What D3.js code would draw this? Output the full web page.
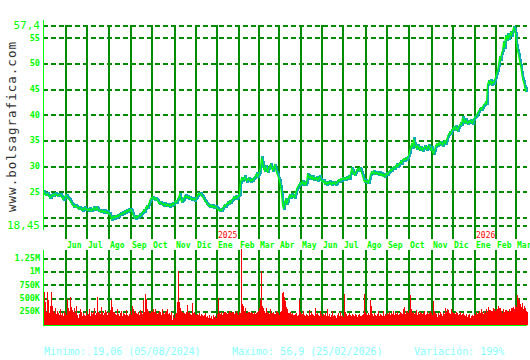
<!DOCTYPE html>
<html>
<head>
<meta charset="utf-8">
<script src="https://cdn.jsdelivr.net/npm/d3@7"></script>
<style>
  body { margin: 0; background: #fff; }
  svg { display: block; }
  text { font-family: "DejaVu Sans Mono", monospace; }
</style>
</head>
<body>
<svg id="chart" width="530" height="360"></svg>
<script>
// trading days per month, May 2024 .. Mar 2026
const monthLabels = ['May','Jun','Jul','Ago','Sep','Oct','Nov','Dic','Ene','Feb','Mar','Abr',
                     'May','Jun','Jul','Ago','Sep','Oct','Nov','Dic','Ene','Feb','Mar'];
const monthDays = [23,21,22,22,21,23,21,21,22,20,20,22,21,21,23,21,22,23,21,22,21,20,11];
const yearMarks = [{ month: 8, label: '2025' }, { month: 20, label: '2026' }];

const priceTicks = [18.45, 20, 25, 30, 35, 40, 45, 50, 55, 57.4];
const priceLabelled = [18.45, 25, 30, 35, 40, 45, 50, 55, 57.4];
const volTicks = [250, 500, 750, 1000, 1250];
const volTickLabels = ['250K', '500K', '750K', '1M', '1.25M'];

// daily closes
const closes = [
  24.9,24.6,24.4,24.3,24.5,24.2,23.9,23.8,24.1,24.3,24.2,24.4,24.5,24.3,24.1,24.2,24.4,24.3,24.0,23.6,23.5,23.9,24.2,
  24.1,23.9,23.6,23.4,23.0,22.7,22.4,22.1,22.0,22.3,22.0,21.8,21.6,21.9,21.7,21.5,21.3,21.6,21.8,21.5,21.4,
  21.5,21.3,21.6,21.4,21.2,21.5,21.8,21.6,21.4,21.9,21.7,21.3,21.2,21.0,21.3,21.1,20.9,21.2,21.0,20.8,21.0,20.7,
  20.6,20.2,19.6,19.9,20.1,19.8,20.2,20.0,20.3,20.1,20.4,20.6,20.5,20.8,20.7,21.0,20.9,21.2,21.1,21.4,21.3,21.5,
  21.2,20.6,20.2,20.0,19.8,20.1,19.9,20.2,20.4,20.3,20.6,20.9,21.3,21.1,21.6,22.0,21.8,22.4,23.0,23.5,23.7,
  23.9,23.6,23.4,23.7,23.5,23.2,22.8,22.6,22.9,22.7,22.5,22.3,22.6,22.4,22.2,22.5,22.3,22.1,22.4,22.2,22.6,22.4,22.8,
  23.1,22.9,23.4,23.8,24.4,23.6,23.0,23.2,23.5,24.0,24.1,23.8,24.0,23.7,23.9,23.6,23.4,23.6,23.5,23.3,23.6,
  23.8,24.2,24.6,24.4,24.5,24.2,24.0,23.6,23.3,23.0,22.7,22.5,22.3,22.1,22.3,22.0,22.2,21.9,22.1,22.0,21.8,
  21.6,21.4,21.2,21.5,21.3,21.6,22.0,22.3,22.1,22.5,22.8,22.6,23.0,22.8,23.2,23.5,23.8,23.6,24.0,23.7,23.9,24.1,
  24.3,26.8,27.6,27.2,27.5,27.8,27.3,27.0,27.4,27.6,27.2,27.0,27.3,27.1,27.5,27.7,28.0,28.4,27.9,28.3,
  28.6,29.8,31.6,30.6,29.5,29.0,29.8,29.2,28.8,29.4,29.9,30.2,29.6,29.1,29.5,30.1,29.4,28.7,28.2,27.6,
  27.2,26.0,24.5,22.3,21.6,22.8,23.4,22.6,23.0,23.8,24.2,23.9,24.3,24.0,24.1,23.8,24.6,25.4,25.8,26.2,26.5,26.3,
  26.6,26.9,26.4,26.7,26.3,26.8,28.3,28.0,27.6,27.9,27.5,27.8,27.3,27.6,27.4,27.7,27.2,27.5,27.8,27.3,27.1,
  26.9,27.1,26.6,26.8,26.4,26.7,26.5,26.9,26.6,26.3,26.7,26.5,26.8,26.4,26.6,26.9,27.2,27.0,27.4,27.2,27.6,
  27.4,27.6,27.3,27.7,27.5,27.8,27.6,28.4,29.4,29.0,28.4,28.2,28.6,29.0,29.3,29.1,29.5,29.2,28.7,28.0,27.3,26.9,27.1,
  26.8,27.0,26.7,27.5,28.3,28.7,28.5,28.9,28.6,28.4,28.7,28.5,28.3,28.6,28.2,28.4,28.0,28.3,27.9,28.2,28.5,
  28.3,28.6,28.9,29.2,29.0,29.4,29.7,29.5,29.9,30.2,29.8,30.1,30.4,30.8,30.5,31.0,31.3,31.1,31.4,31.2,31.6,32.0,
  32.6,33.5,34.2,33.6,35.2,34.3,33.8,33.4,33.9,33.5,33.1,33.6,33.3,33.0,33.4,33.7,33.5,33.2,33.6,33.9,33.4,33.1,33.5,
  32.7,32.4,33.0,33.8,34.2,33.9,34.4,34.1,34.6,34.3,34.0,34.5,34.8,34.4,35.0,35.6,36.0,36.4,36.2,36.8,37.1,
  37.4,37.0,37.6,37.3,36.9,37.5,37.8,38.2,38.0,39.4,38.7,38.4,38.9,38.5,38.2,38.6,38.4,38.8,38.5,38.3,39.0,39.3,
  39.5,39.8,40.2,40.6,40.9,41.2,40.9,41.4,41.8,42.0,42.3,42.1,45.8,46.4,46.0,46.5,45.9,46.3,46.1,46.6,47.2,
  48.0,48.6,49.5,51.0,50.6,51.8,52.4,54.0,53.0,55.2,54.6,55.5,54.8,55.3,55.9,55.4,56.2,56.9,56.5,55.8,
  53.5,52.4,51.6,50.4,49.6,48.2,47.0,46.3,45.5,44.6,45.0
];

// daily volume, thousands of shares
const volumes = [
  610,420,230,600,450,220,350,600,340,260,220,310,190,250,210,170,280,180,210,160,260,220,180,
  480,300,250,520,330,270,230,300,220,350,180,130,200,290,230,160,220,180,150,250,170,
  190,280,160,230,200,240,300,180,210,520,230,220,190,320,230,180,210,270,240,170,230,220,
  270,450,330,240,230,200,170,290,190,150,210,260,160,220,190,170,270,180,150,190,250,180,
  340,290,220,250,220,190,240,180,270,230,200,450,230,560,470,280,250,220,210,250,240,
  280,240,290,210,190,220,260,230,180,290,220,200,230,250,290,190,220,170,240,90,180,130,190,
  220,420,1000,420,300,260,230,220,210,190,240,360,220,240,190,170,400,210,240,200,180,
  190,170,220,160,200,180,150,170,210,140,160,130,180,120,150,110,170,140,160,130,190,
  490,220,190,240,170,210,240,230,220,190,220,260,240,210,230,230,200,210,250,220,180,240,
  220,1400,380,350,260,300,220,220,240,240,210,230,210,200,230,190,220,240,250,300,
  450,1000,350,300,260,220,300,240,220,200,280,220,210,230,200,190,260,240,210,180,
  240,250,580,610,520,430,330,280,220,220,240,190,210,180,170,200,220,160,180,450,240,200,
  190,260,180,160,200,170,150,270,180,240,200,170,160,300,190,220,180,150,260,200,160,
  190,170,210,150,280,160,200,140,170,250,160,180,150,130,170,210,160,240,150,170,140,
  560,240,190,160,180,210,170,150,200,180,160,190,170,140,180,200,160,150,170,190,570,240,200,
  180,220,170,450,340,190,160,210,170,150,190,260,160,200,170,150,250,160,190,170,210,
  200,240,180,220,190,260,170,210,190,230,180,200,240,210,190,280,320,200,250,230,210,270,
  550,290,220,240,190,210,270,180,230,200,240,220,190,210,250,170,200,230,190,220,260,210,180,
  430,250,220,190,140,210,180,240,200,160,220,190,300,240,290,270,220,200,290,230,210,
  220,190,240,210,180,200,230,170,190,210,180,160,200,140,170,190,130,160,180,150,200,170,
  240,190,220,250,210,290,230,200,260,220,280,240,330,270,270,260,250,300,290,260,280,
  280,350,300,300,260,220,290,240,270,270,250,230,280,260,300,300,320,290,360,330,
  550,500,450,380,320,400,280,350,300,250,240
];

const footer = [
  { x: 44, text: 'Minimo: 19,06 (05/08/2024)' },
  { x: 232, text: 'Maximo: 56,9 (25/02/2026)' },
  { x: 414, text: 'Variación: 199%' }
];

const grid = '#008c00';
const bright = '#00ff00';
const left = 43, right = 527;
const totalDays = d3.sum(monthDays);
const monthStarts = monthDays.map((d, i) => d3.sum(monthDays.slice(0, i)));

const svg = d3.select('#chart');
const x = d3.scaleLinear().domain([0, totalDays]).range([left, right]);
const y = d3.scaleLinear().domain([18.45, 57.4]).range([225, 25]);
const yv = d3.scaleLinear().domain([0, 1250]).range([324.5, 257.5]);
const esFmt = d3.formatLocale({ decimal: ',', thousands: '.', grouping: [3], currency: ['', '€'] });
const priceFmt = v => Number.isInteger(v) ? String(v) : esFmt.format(',')(v);

// watermark
svg.append('text')
    .attr('transform', 'translate(16,127) rotate(-90)')
    .attr('text-anchor', 'middle')
    .attr('textLength', 170)
    .attr('lengthAdjust', 'spacing')
    .attr('font-size', 12.5)
    .attr('fill', '#333')
    .text('www.bolsagrafica.com');

// ---- price panel ----
const pg = svg.append('g').attr('shape-rendering', 'crispEdges');

pg.selectAll('.hgrid')
    .data(priceTicks)
    .enter().append('line')
    .attr('x1', left).attr('x2', right)
    .attr('y1', d => Math.round(y(d)) + 0.5).attr('y2', d => Math.round(y(d)) + 0.5)
    .attr('stroke', grid).attr('stroke-width', 2).attr('stroke-dasharray', '5,3');

pg.selectAll('.vgrid')
    .data(monthStarts.slice(1))
    .enter().append('line')
    .attr('x1', d => Math.round(x(d))).attr('x2', d => Math.round(x(d)))
    .attr('y1', 25).attr('y2', 239)
    .attr('stroke', grid).attr('stroke-width', 2);

pg.append('line')
    .attr('x1', left + 0.5).attr('x2', left + 0.5)
    .attr('y1', 20).attr('y2', 230)
    .attr('stroke', bright).attr('stroke-width', 1);

const yAxis = d3.axisLeft(y).tickValues(priceLabelled).tickSize(0).tickPadding(3).tickFormat(priceFmt);
const ya = svg.append('g').attr('transform', `translate(${left},0)`).call(yAxis);
ya.select('.domain').remove();
ya.selectAll('text')
    .attr('fill', bright)
    .attr('font-family', '"DejaVu Sans Mono", monospace')
    .attr('font-weight', d => (d === 57.4 || d === 18.45) ? 'normal' : 'bold')
    .attr('font-size', d => (d === 57.4 || d === 18.45) ? 11 : 8.5);

// high-low marks between consecutive closes, then close line
pg.selectAll('.hl')
    .data(closes.slice(1))
    .enter().append('line')
    .attr('x1', (d, i) => Math.round(x(i + 1)) + 1).attr('x2', (d, i) => Math.round(x(i + 1)) + 1)
    .attr('y1', (d, i) => Math.min(y(d), y(closes[i])) - 1.5)
    .attr('y2', (d, i) => Math.max(y(d), y(closes[i])) + 1.5)
    .attr('stroke', '#10a8b8').attr('stroke-width', 1.5);

const line = d3.line().x((d, i) => x(i) + 0.5).y(d => y(d));
svg.append('path')
    .datum(closes)
    .attr('d', line)
    .attr('fill', 'none')
    .attr('stroke', bright)
    .attr('stroke-width', 1.2);

// month and year labels
svg.selectAll('.mlab')
    .data(monthStarts.slice(1))
    .enter().append('text')
    .attr('x', d => Math.round(x(d)) + 1)
    .attr('y', 248)
    .attr('font-size', 8).attr('font-weight', 'bold')
    .attr('fill', bright)
    .text((d, i) => monthLabels[i + 1]);

svg.selectAll('.ylab')
    .data(yearMarks)
    .enter().append('text')
    .attr('x', d => Math.round(x(monthStarts[d.month])) + 1)
    .attr('y', 238)
    .attr('font-size', 8)
    .attr('fill', '#ff0000')
    .text(d => d.label);

// ---- volume panel ----
const vg = svg.append('g').attr('shape-rendering', 'crispEdges');

vg.selectAll('.vhgrid')
    .data(volTicks)
    .enter().append('line')
    .attr('x1', left).attr('x2', right)
    .attr('y1', d => Math.round(yv(d)) + 0.5).attr('y2', d => Math.round(yv(d)) + 0.5)
    .attr('stroke', grid).attr('stroke-width', 2).attr('stroke-dasharray', '5,3');

vg.selectAll('.vvgrid')
    .data(monthStarts.slice(1))
    .enter().append('line')
    .attr('x1', d => Math.round(x(d))).attr('x2', d => Math.round(x(d)))
    .attr('y1', 250).attr('y2', 325)
    .attr('stroke', grid).attr('stroke-width', 2);

vg.selectAll('.bar')
    .data(volumes)
    .enter().append('rect')
    .attr('x', (d, i) => Math.round(x(i)) + 1)
    .attr('width', 1)
    .attr('y', d => yv(d))
    .attr('height', d => yv(0) - yv(d))
    .attr('fill', '#ff0000');

vg.append('line')
    .attr('x1', left + 0.5).attr('x2', left + 0.5)
    .attr('y1', 250).attr('y2', 326)
    .attr('stroke', bright);
vg.append('line')
    .attr('x1', left).attr('x2', right)
    .attr('y1', 325.5).attr('y2', 325.5)
    .attr('stroke', bright);

const vAxis = d3.axisLeft(yv).tickValues(volTicks).tickSize(0).tickPadding(3)
    .tickFormat((d, i) => volTickLabels[i]);
const va = svg.append('g').attr('transform', `translate(${left},0)`).call(vAxis);
va.select('.domain').remove();
va.selectAll('text')
    .attr('fill', bright)
    .attr('font-family', '"DejaVu Sans Mono", monospace')
    .attr('font-weight', 'bold')
    .attr('font-size', 8.5);

// footer
svg.selectAll('.foot')
    .data(footer)
    .enter().append('text')
    .attr('x', d => d.x)
    .attr('y', 355)
    .attr('font-size', 10)
    .attr('fill', '#88ffff')
    .text(d => d.text);
</script>
</body>
</html>
